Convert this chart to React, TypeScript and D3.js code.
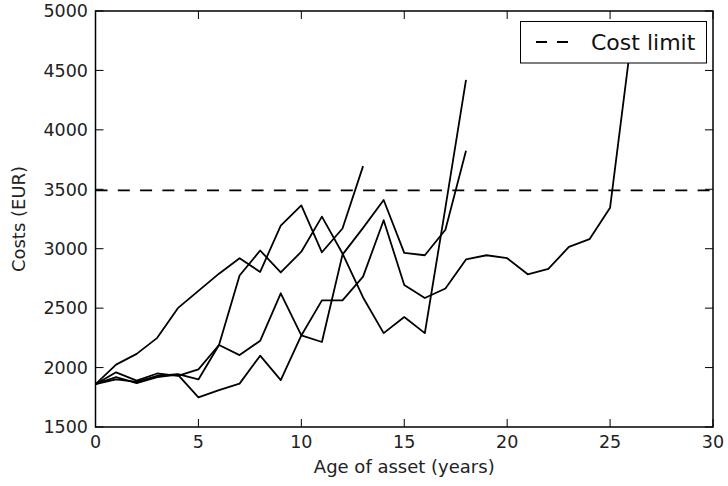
import * as d3 from 'd3';

// Age of asset (years) is the array index for every series
const runA = [1860, 2025, 2115, 2250, 2500, 2645, 2790, 2920, 2805, 3195, 3365, 2970, 3170, 3695];
const runB = [1860, 1960, 1890, 1950, 1930, 1985, 2190, 2775, 2985, 2800, 2975, 3270, 2960, 2590, 2290, 2425, 2290, 3345, 4420];
const runC = [1860, 1920, 1870, 1920, 1940, 1750, 1810, 1865, 2100, 1895, 2270, 2215, 2950, 3175, 3410, 2965, 2945, 3160, 3825];
const runD = [1860, 1900, 1880, 1930, 1945, 1900, 2190, 2105, 2225, 2625, 2270, 2565, 2565, 2765, 3240, 2695, 2585, 2665, 2910, 2945, 2920, 2785, 2830, 3015, 3080, 3345, 4720];
const runs = [runA, runB, runC, runD];

const costLimit = 3490;
const xTicks = [0, 5, 10, 15, 20, 25, 30];
const yTicks = [1500, 2000, 2500, 3000, 3500, 4000, 4500, 5000];

const W = 728;
const H = 486;
const left = 95.5;
const right = 713;
const top = 11;
const bottom = 427;
const tickLen = 8;
const font = '"DejaVu Sans", sans-serif';

export default function App() {
  const x = d3.scaleLinear().domain([0, 30]).range([left, right]);
  const y = d3.scaleLinear().domain([1500, 5000]).range([bottom, top]);

  const line = d3
    .line<number>()
    .x((_d, i) => x(i))
    .y(d => y(d));

  return (
    <svg
      width={W}
      height={H}
      style={{ position: 'absolute', left: 0, top: 0, background: '#fff' }}
    >
      <defs>
        <clipPath id="plot">
          <rect x={left} y={top} width={right - left} height={bottom - top} />
        </clipPath>
      </defs>

      <g clipPath="url(#plot)">
        {runs.map((r, i) => (
          <path
            key={i}
            d={line(r) ?? ''}
            fill="none"
            stroke="#000"
            strokeWidth={1.8}
            strokeLinejoin="round"
          />
        ))}
        <line
          x1={left}
          x2={right}
          y1={y(costLimit)}
          y2={y(costLimit)}
          stroke="#000"
          strokeWidth={1.8}
          strokeDasharray="12,10.3"
        />
      </g>

      {/* ticks on all four sides, pointing inward */}
      {xTicks.map(t => (
        <g key={'x' + t}>
          <line x1={x(t)} x2={x(t)} y1={bottom} y2={bottom - tickLen} stroke="#000" />
          <line x1={x(t)} x2={x(t)} y1={top} y2={top + tickLen} stroke="#000" />
          <text
            x={x(t)}
            y={448}
            textAnchor="middle"
            fontFamily={font}
            fontSize={17.5}
            fill="#222"
          >
            {t}
          </text>
        </g>
      ))}
      {yTicks.map(t => (
        <g key={'y' + t}>
          <line x1={left} x2={left + tickLen} y1={y(t)} y2={y(t)} stroke="#000" />
          <line x1={right} x2={right - tickLen} y1={y(t)} y2={y(t)} stroke="#000" />
          <text
            x={88}
            y={y(t)}
            dy="0.36em"
            textAnchor="end"
            fontFamily={font}
            fontSize={17.5}
            fill="#222"
          >
            {t}
          </text>
        </g>
      ))}

      <rect
        x={left}
        y={top}
        width={right - left}
        height={bottom - top}
        fill="none"
        stroke="#000"
        strokeWidth={1.5}
      />

      <text
        x={(left + right) / 2}
        y={473}
        textAnchor="middle"
        fontFamily={font}
        fontSize={18}
        fill="#222"
      >
        Age of asset (years)
      </text>
      <text
        transform={`translate(25,${(top + bottom) / 2}) rotate(-90)`}
        textAnchor="middle"
        fontFamily={font}
        fontSize={18}
        fill="#222"
      >
        Costs (EUR)
      </text>

      {/* legend */}
      <g>
        <rect x={520.5} y={21.5} width={186} height={41.5} fill="#fff" stroke="#000" strokeWidth={1} />
        <line x1={536} x2={568} y1={42} y2={42} stroke="#000" strokeWidth={1.8} strokeDasharray="11,10" />
        <text x={591} y={50} fontFamily={font} fontSize={22} fill="#111">
          Cost limit
        </text>
      </g>
    </svg>
  );
}
